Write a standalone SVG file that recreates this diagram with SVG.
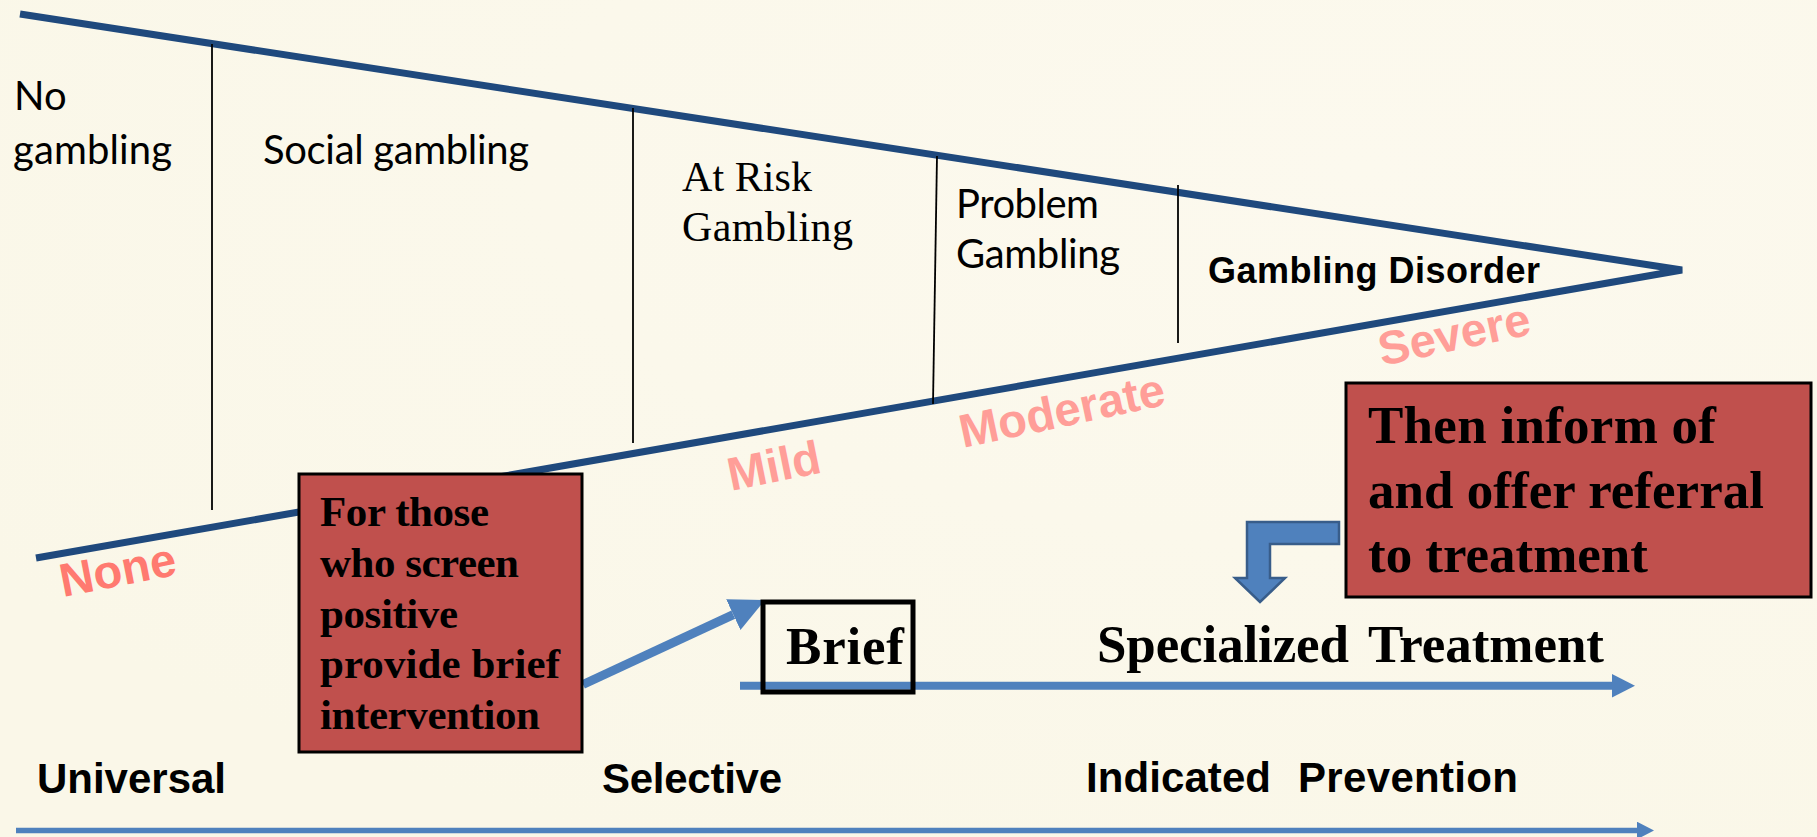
<svg xmlns="http://www.w3.org/2000/svg" width="1817" height="837" viewBox="0 0 1817 837">
  <style>
    .tri { fill: none; stroke: #1F497D; stroke-width: 7; stroke-linejoin: bevel; stroke-linecap: butt; }
    .div { stroke: #000; stroke-width: 1.8; }
    .cal { font-family: Lato, "Open Sans", sans-serif; font-size: 40px; fill: #000; }
    .ser { font-family: "Liberation Serif", serif; font-size: 42px; fill: #000; }
    .serb { font-family: "Liberation Serif", serif; font-weight: bold; fill: #000; }
    .sansb { font-family: "Liberation Sans", Arial, sans-serif; font-weight: bold; fill: #000; }
    .pink { font-family: "Liberation Sans", Arial, sans-serif; font-weight: bold; font-size: 47px; }
    .redbox { fill: #C0504D; stroke: #000; stroke-width: 3; }
    .blue { stroke: #4F81BD; fill: none; }
  </style>
  <defs>
    <marker id="headA" markerUnits="userSpaceOnUse" markerWidth="24" markerHeight="24" refX="0" refY="11.7" orient="auto" viewBox="0 0 24 24">
      <path d="M0,0 L23,11.7 L0,23.4 z" fill="#4F81BD"/>
    </marker>
    <marker id="headB" markerUnits="userSpaceOnUse" markerWidth="18" markerHeight="18" refX="0" refY="8.8" orient="auto" viewBox="0 0 18 18">
      <path d="M0,0 L17,8.8 L0,17.6 z" fill="#4F81BD"/>
    </marker>
    <marker id="headC" markerUnits="userSpaceOnUse" markerWidth="36" markerHeight="36" refX="0" refY="17" orient="auto" viewBox="0 0 36 36">
      <path d="M0,0 L35,17 L0,34 z" fill="#4F81BD"/>
    </marker>
    <radialGradient id="bg" cx="0.75" cy="0.2" r="0.9">
      <stop offset="0" stop-color="#FCF9EE"/>
      <stop offset="1" stop-color="#FAF7E8"/>
    </radialGradient>
  </defs>

  <rect x="0" y="0" width="1817" height="837" fill="url(#bg)"/>

  <g id="triangle">
    <polyline class="tri" points="20,14 1682,270 36,558"/>
    <line class="div" x1="212" y1="44" x2="212" y2="510"/>
    <line class="div" x1="633" y1="108" x2="633" y2="443"/>
    <line class="div" x1="937" y1="156" x2="933" y2="404"/>
    <line class="div" x1="1178" y1="185" x2="1178" y2="343"/>
  </g>

  <g id="stage-labels">
    <text class="cal" x="14" y="110">No</text>
    <text class="cal" x="13" y="164" textLength="159">gambling</text>
    <text class="cal" x="263" y="164" textLength="266">Social gambling</text>
    <text class="ser" x="682" y="191" textLength="130">At Risk</text>
    <text class="ser" x="682" y="241" textLength="171">Gambling</text>
    <text class="cal" x="956" y="218" textLength="143">Problem</text>
    <text class="cal" x="956" y="268" textLength="164">Gambling</text>
    <text class="sansb" x="1208" y="283" font-size="36" textLength="332">Gambling Disorder</text>
  </g>

  <g id="severity-labels">
    <text class="pink" fill="#FF7A70" transform="translate(63,597) rotate(-11)">None</text>
    <text class="pink" fill="#FF9E98" transform="translate(731,491) rotate(-11.5)">Mild</text>
    <text class="pink" fill="#FF9E98" transform="translate(963,448) rotate(-12)">Moderate</text>
    <text class="pink" fill="#FF9E98" transform="translate(1382,366) rotate(-12)">Severe</text>
  </g>

  <g id="connectors">
    <line class="blue" x1="740" y1="685.7" x2="1612" y2="685.7" stroke-width="8" marker-end="url(#headA)"/>
    <line class="blue" x1="16" y1="830.5" x2="1637" y2="830.5" stroke-width="5.5" marker-end="url(#headB)"/>
    <line class="blue" x1="583" y1="684.5" x2="733.3" y2="614.7" stroke-width="9" marker-end="url(#headC)"/>
    <path d="M1339,522 L1247,522 L1247,578 L1235,578 L1260,602 L1285,578 L1270,578 L1270,544 L1339,544 Z" fill="#4F81BD" stroke="#385D8A" stroke-width="2.5"/>
  </g>

  <g id="screen-box">
    <rect class="redbox" x="299" y="474" width="283" height="278"/>
    <text class="serb" font-size="43">
      <tspan x="320" y="526" textLength="169">For those</tspan>
      <tspan x="320" y="577" textLength="199">who screen</tspan>
      <tspan x="320" y="628" textLength="138">positive</tspan>
      <tspan x="320" y="678" textLength="240">provide brief</tspan>
      <tspan x="320" y="729" textLength="220">intervention</tspan>
    </text>
  </g>

  <g id="referral-box">
    <rect class="redbox" x="1346" y="383" width="465" height="214"/>
    <text class="serb" font-size="53">
      <tspan x="1368" y="443" textLength="348">Then inform of</tspan>
      <tspan x="1368" y="508" textLength="396">and offer referral</tspan>
      <tspan x="1368" y="572" textLength="280">to treatment</tspan>
    </text>
  </g>

  <g id="brief-box">
    <rect x="763" y="602" width="150" height="90" fill="none" stroke="#000" stroke-width="5"/>
    <text class="serb" font-size="53" x="786" y="664" textLength="118">Brief</text>
  </g>

  <g id="specialized-treatment">
    <text class="serb" font-size="53" y="662"><tspan x="1097" textLength="252">Specialized</tspan> <tspan x="1368" textLength="236">Treatment</tspan></text>
  </g>

  <g id="prevention-labels">
    <text class="sansb" font-size="42" x="37" y="793" textLength="189">Universal</text>
    <text class="sansb" font-size="42" x="602" y="793" textLength="180">Selective</text>
    <text class="sansb" font-size="42" y="792"><tspan x="1086" textLength="185">Indicated</tspan> <tspan x="1298" textLength="220">Prevention</tspan></text>
  </g>
</svg>
